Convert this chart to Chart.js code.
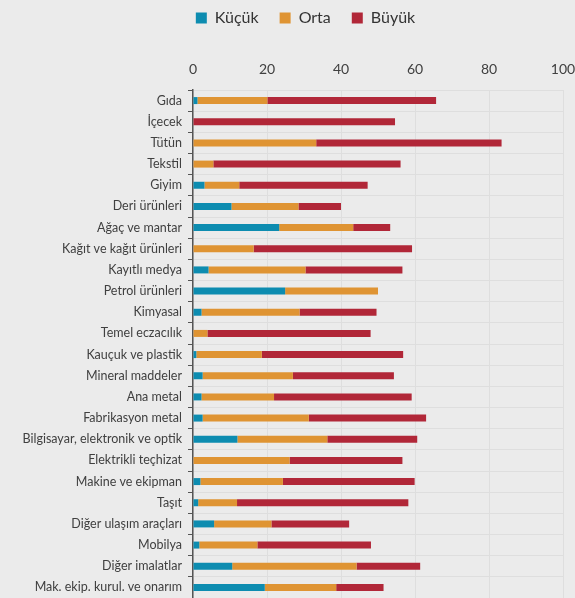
<!DOCTYPE html>
<html>
<head>
<meta charset="utf-8">
<script src="https://cdn.jsdelivr.net/npm/chart.js@4"></script>
<style>
    html, body { margin: 0; padding: 0; background: #ebebeb; overflow: hidden; }
    #wrap { width: 575px; height: 598px; position: relative; }
</style>
</head>
<body>
<div id="wrap"><canvas id="sizeChart"></canvas></div>
<script>
// Sectors (top to bottom)
const sectors = [
    'Gıda', 'İçecek', 'Tütün', 'Tekstil', 'Giyim', 'Deri ürünleri',
    'Ağaç ve mantar', 'Kağıt ve kağıt ürünleri', 'Kayıtlı medya', 'Petrol ürünleri',
    'Kimyasal', 'Temel eczacılık', 'Kauçuk ve plastik', 'Mineral maddeler',
    'Ana metal', 'Fabrikasyon metal', 'Bilgisayar, elektronik ve optik',
    'Elektrikli teçhizat', 'Makine ve ekipman', 'Taşıt', 'Diğer ulaşım araçları',
    'Mobilya', 'Diğer imalatlar', 'Mak. ekip. kurul. ve onarım'
];

// Values
const kucuk = [1.2, 0, 0, 0, 3.1, 10.4, 23.3, 0, 4.2, 24.9, 2.3, 0, 0.9, 2.6,
    2.3, 2.6, 12.0, 0, 2.0, 1.4, 5.7, 1.7, 10.6, 19.4];
const orta = [18.9, 0, 33.3, 5.5, 9.4, 18.1, 20.0, 16.4, 26.2, 25.1, 26.5, 3.9, 17.7, 24.4,
    19.6, 28.7, 24.3, 26.1, 22.3, 10.5, 15.5, 15.7, 33.6, 19.3];
const buyuk = [45.6, 54.6, 50.1, 50.6, 34.7, 11.5, 10.0, 42.8, 26.2, 0, 20.8, 44.1, 38.2, 27.3,
    37.2, 31.7, 24.3, 30.5, 35.6, 46.3, 21.0, 30.7, 17.2, 12.8];

const xTicks = [0, 20, 40, 60, 80, 100];

const colors = {
    kucuk: '#0d8cb0',
    orta: '#df9433',
    buyuk: '#b12738'
};

Chart.defaults.font.family = 'Lato, "Open Sans", sans-serif';
Chart.defaults.color = '#404040';

// legend sits a bit right of the canvas centre in the original
const legendShift = {
    id: 'legendShift',
    afterLayout(chart) {
        if (!chart.legend) return;
        chart.legend.left += 24;
        chart.legend.right += 24;
    }
};

const ctx = document.getElementById('sizeChart');

new Chart(ctx, {
    type: 'bar',
    data: {
        labels: sectors,
        datasets: [
            { label: 'Küçük', data: kucuk, backgroundColor: colors.kucuk },
            { label: 'Orta', data: orta, backgroundColor: colors.orta },
            { label: 'Büyük', data: buyuk, backgroundColor: colors.buyuk }
        ]
    },
    plugins: [legendShift],
    options: {
        indexAxis: 'y',
        responsive: true,
        maintainAspectRatio: false,
        animation: false,
        layout: {
            padding: { top: -11, right: 12, bottom: 0, left: 0 }
        },
        datasets: {
            bar: {
                barPercentage: 0.33,
                categoryPercentage: 1,
                borderWidth: 0
            }
        },
        plugins: {
            legend: {
                position: 'top',
                labels: {
                    font: { size: 16 },
                    color: '#333',
                    boxWidth: 11,
                    boxHeight: 11,
                    padding: 21
                }
            },
            tooltip: { enabled: false }
        },
        scales: {
            x: {
                position: 'top',
                stacked: true,
                min: 0,
                max: 100,
                afterBuildTicks: function(scale) {
                    scale.ticks = xTicks.map(v => ({ value: v }));
                },
                afterFit: function(scale) {
                    scale.height = 54;
                    scale.paddingRight = 0;
                },
                ticks: {
                    font: { size: 14 },
                    color: '#404040',
                    padding: 12
                },
                grid: {
                    color: '#dedede',
                    drawTicks: false
                },
                border: { display: false }
            },
            y: {
                stacked: true,
                afterFit: function(scale) {
                    scale.width = 193;
                    scale.paddingTop = 0;
                    scale.paddingBottom = 0;
                },
                ticks: {
                    font: { size: 12.5 },
                    color: '#404040',
                    padding: 6,
                    autoSkip: false
                },
                grid: {
                    color: '#dedede',
                    tickColor: '#555',
                    tickLength: 5
                },
                border: { color: '#555', width: 1.5 }
            }
        }
    }
});
</script>
</body>
</html>
